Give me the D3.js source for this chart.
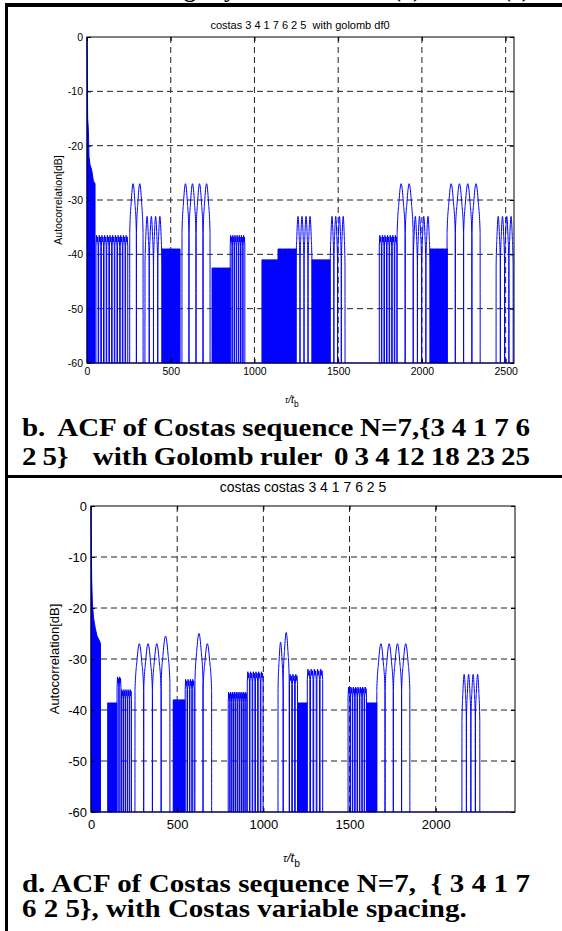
<!DOCTYPE html>
<html>
<head>
<meta charset="utf-8">
<script src="https://cdn.jsdelivr.net/npm/d3@7"></script>
<style>
body { margin: 0; background: #fff; }
svg { display: block; }
</style>
</head>
<body>
<div id="page"></div>
<script>
// tick values
const xTicks1 = [0, 500, 1000, 1500, 2000, 2500];
const xTicks2 = [0, 500, 1000, 1500, 2000];
const yTicks = [0, -10, -20, -30, -40, -50, -60];

// panel b : costas 3 4 1 7 6 2 5 with golomb df0  (lag, dB)
const mainLobe1 = [[0, 0], [2, -6], [4, -15], [8, -17], [12, -22], [18, -23.5], [28, -24.5], [38, -26.5], [48, -27]];
// solid blocks: [from, to, top dB]
const dense1 = [[448, 555, -39], [747, 854, -42.5], [1045, 1141, -41], [1141, 1248, -39], [1344, 1452, -41], [2049, 2150, -39]];
// spiky blocks: [from, to, top dB, spikes]
const comb1 = [[52, 245, -36.5, 12], [854, 944, -36.5, 7], [1744, 1852, -36.5, 7]];
// rounded lobes: [from, to, top dB, lobes]
const lobes1 = [[255, 335, -27, 2], [346, 448, -33, 4], [567, 735, -27, 4], [1248, 1344, -33, 4], [1452, 1541, -33, 4],
                [1852, 1948, -27, 2], [1948, 2049, -33, 4], [2150, 2348, -27, 4], [2443, 2545, -33, 4]];

// panel d : costas costas 3 4 1 7 6 2 5
const mainLobe2 = [[0, 0], [2, -8], [4, -14.5], [8, -19], [15, -22], [25, -24], [35, -25.5], [50, -26.5], [55, -27]];
const dense2 = [[97, 150, -38.6], [477, 545, -38], [1200, 1253, -38.6], [1600, 1658, -38.6]];
const comb2 = [[150, 175, -33.5, 2], [175, 236, -36, 5], [545, 600, -34, 4], [795, 905, -36.5, 10], [905, 1000, -32.5, 6],
               [1150, 1200, -33, 3], [1253, 1346, -32, 5], [1490, 1600, -35.5, 8]];
const lobes2 = [[255, 407, -27, 3], [407, 458, -25.5, 1], [603, 650, -25, 1], [650, 700, -27, 1], [1085, 1115, -26.7, 1],
                [1115, 1150, -24.8, 1], [1658, 1850, -27, 4], [2152, 2256, -33, 4]];

const svg = d3.select("#page").append("svg")
    .attr("width", 562)
    .attr("height", 931);

// table borders of the scanned page
svg.append("rect").attr("x", 5).attr("y", 3).attr("width", 557).attr("height", 4).attr("fill", "#000");
svg.append("rect").attr("x", 5).attr("y", 3).attr("width", 3).attr("height", 928).attr("fill", "#000");
svg.append("rect").attr("x", 5).attr("y", 475).attr("width", 557).attr("height", 3).attr("fill", "#000");

// cut-off line of text above the table
const cut = svg.append("g").attr("font-family", "Liberation Serif").attr("font-weight", "bold").attr("font-size", 24);
cut.append("text").attr("x", 236).attr("y", -3).attr("text-anchor", "end").text("Ambiguity");
cut.append("text").attr("x", 393).attr("y", -3).text("(a)");
cut.append("text").attr("x", 503).attr("y", -3).text("(c)");

function drawPanel(p) {
  const x = d3.scaleLinear().domain([0, p.xMax]).range([p.left, p.right]);
  const y = d3.scaleLinear().domain([-60, 0]).range([p.bottom, p.top]);
  const g = svg.append("g");
  const fs = p.fontSize;

  // grid
  g.selectAll(".vgrid").data(p.xTicks.filter(d => d > 0))
    .join("line")
      .attr("x1", d => x(d)).attr("x2", d => x(d))
      .attr("y1", p.top).attr("y2", p.bottom)
      .attr("stroke", "#222").attr("stroke-dasharray", "6,4");
  g.selectAll(".hgrid").data(yTicks.filter(d => d > -60 && d < 0))
    .join("line")
      .attr("x1", p.left).attr("x2", p.right)
      .attr("y1", d => y(d)).attr("y2", d => y(d))
      .attr("stroke", "#222").attr("stroke-dasharray", "6,4");

  const line = d3.line().x(d => x(d[0])).y(d => y(d[1]));
  const smooth = d3.line().x(d => x(d[0])).y(d => y(d[1])).curve(d3.curveMonotoneX);
  const blue = "#0000ff";
  const data = g.append("g").attr("fill", "none").attr("stroke", blue).attr("stroke-width", 1);

  // floor of the correlation
  data.append("path").attr("d", line([[0, -60], [p.xMax, -60]]));

  // main lobe
  data.append("path")
    .attr("d", d3.area().x(d => x(d[0])).y0(y(-60)).y1(d => y(d[1]))(p.mainLobe))
    .attr("fill", blue);

  // solid blocks
  data.selectAll(".dense").data(p.dense)
    .join("path")
      .attr("d", d => {
        const pts = [];
        for (let v = d[0]; v < d[1]; v += 5) {
          pts.push([v, -60], [v, d[2]], [v + 2.5, d[2]], [v + 2.5, -60]);
        }
        return line(pts);
      });

  // spiky blocks
  data.selectAll(".comb").data(p.comb)
    .join("path")
      .attr("d", d => {
        const w = (d[1] - d[0]) / d[3];
        const pts = [];
        for (let i = 0; i < d[3]; i++) {
          const c = d[0] + (i + 0.5) * w;
          pts.push([c - 0.4 * w, -60], [c - 0.4 * w, d[2] - 2], [c - 0.2 * w, d[2]], [c, d[2] - 1.2],
                   [c + 0.2 * w, d[2] - 0.3], [c + 0.4 * w, d[2] - 2], [c + 0.4 * w, -60]);
        }
        return line(pts);
      });

  // rounded lobes
  p.lobes.forEach(d => {
    const w = (d[1] - d[0]) / d[3];
    for (let i = 0; i < d[3]; i++) {
      const a = d[0] + i * w, b = a + w;
      data.append("path").attr("d", smooth([
        [a, -60], [a + 0.3, d[2] - 9], [a + 0.22 * w, d[2] - 3.5], [a + 0.5 * w, d[2]],
        [b - 0.22 * w, d[2] - 3.5], [b - 0.3, d[2] - 9], [b, -60]
      ]));
    }
  });

  // axes box with inward ticks on every side
  const font = g => g.attr("font-family", "Liberation Sans").attr("font-size", fs);
  const plain = d => String(d);
  g.append("g").attr("transform", `translate(0,${p.bottom})`)
    .call(d3.axisBottom(x).tickValues(p.xTicks).tickFormat(plain).tickSize(-4).tickSizeOuter(0).tickPadding(p.xPad))
    .call(font).call(a => a.select(".domain").remove());
  g.append("g").attr("transform", `translate(0,${p.top})`)
    .call(d3.axisTop(x).tickValues(p.xTicks).tickSize(-4).tickSizeOuter(0).tickFormat(""))
    .call(a => a.select(".domain").remove());
  g.append("g").attr("transform", `translate(${p.left},0)`)
    .call(d3.axisLeft(y).tickValues(yTicks).tickFormat(plain).tickSize(-4).tickSizeOuter(0).tickPadding(4))
    .call(font).call(a => a.select(".domain").remove());
  g.append("g").attr("transform", `translate(${p.right},0)`)
    .call(d3.axisRight(y).tickValues(yTicks).tickSize(-4).tickSizeOuter(0).tickFormat(""))
    .call(a => a.select(".domain").remove());
  g.selectAll(".tick text").attr("fill", "#000");
  g.append("rect")
    .attr("x", p.left).attr("y", p.top)
    .attr("width", p.right - p.left).attr("height", p.bottom - p.top)
    .attr("fill", "none").attr("stroke", "#000");

  // title and axis labels
  g.append("text").attr("x", p.titleX).attr("y", p.titleY)
    .attr("text-anchor", "middle").attr("font-family", "Liberation Sans").attr("font-size", p.titleSize)
    .style("white-space", "pre").text(p.title);
  g.append("text")
    .attr("transform", `translate(${p.ylabX},${(p.top + p.bottom) / 2}) rotate(-90)`)
    .attr("text-anchor", "middle").attr("font-family", "Liberation Sans").attr("font-size", fs)
    .text("Autocorrelation[dB]");
  const xl = g.append("text").attr("x", p.xlabX).attr("y", p.xlabY)
    .attr("font-family", "Liberation Sans").attr("font-size", fs);
  xl.append("tspan").attr("font-style", "italic").attr("font-size", fs * 0.8).text("τ");
  xl.append("tspan").attr("font-style", "italic").text("/t");
  xl.append("tspan").attr("dy", fs * 0.35).attr("font-size", fs * 0.8).text("b");
}

drawPanel({
  left: 87, right: 514, top: 37, bottom: 363, xMax: 2550, xTicks: xTicks1, fontSize: 10.5, xPad: 5,
  mainLobe: mainLobe1, dense: dense1, comb: comb1, lobes: lobes1,
  title: "costas 3 4 1 7 6 2 5  with golomb df0", titleX: 300, titleY: 29, titleSize: 11,
  ylabX: 62, xlabX: 285, xlabY: 403
});
drawPanel({
  left: 91, right: 515, top: 506, bottom: 812, xMax: 2460, xTicks: xTicks2, fontSize: 13, xPad: 8,
  mainLobe: mainLobe2, dense: dense2, comb: comb2, lobes: lobes2,
  title: "costas costas 3 4 1 7 6 2 5", titleX: 303, titleY: 492, titleSize: 14,
  ylabX: 59, xlabX: 283, xlabY: 862
});

// captions: wide scanned serif, justified like the document text
const stretch = 1.16;
const captions = [
  {text: "b.  ACF of Costas sequence N=7,{3 4 1 7 6", y: 436, right: 530},
  {text: "2 5}    with Golomb ruler  0 3 4 12 18 23 25", y: 465, right: 530},
  {text: "d. ACF of Costas sequence N=7,  { 3 4 1 7", y: 892, right: 530},
  {text: "6 2 5}, with Costas variable spacing.", y: 917, right: null}
];
captions.forEach(c => {
  const t = svg.append("text")
    .attr("transform", `translate(22,${c.y}) scale(${stretch},1)`)
    .attr("font-family", "Liberation Serif").attr("font-weight", "bold").attr("font-size", 25)
    .style("white-space", "pre").text(c.text);
  if (c.right) {
    const n = t.node();
    const gaps = (c.text.match(/ /g) || []).length;
    const extra = ((c.right - 22) / stretch - n.getComputedTextLength()) / gaps;
    t.style("word-spacing", extra + "px");
  }
});
</script>
</body>
</html>
